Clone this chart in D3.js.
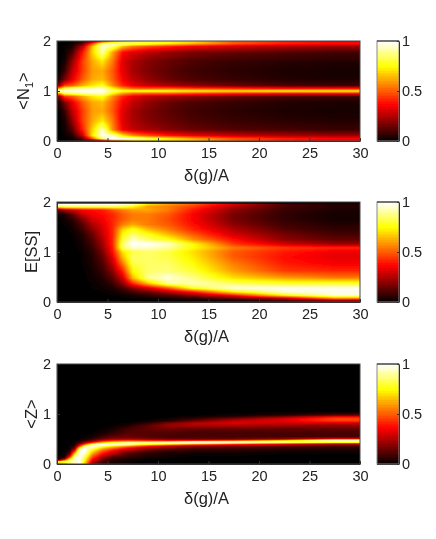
<!DOCTYPE html>
<html>
<head>
<meta charset="utf-8">
<script src="https://cdn.jsdelivr.net/npm/d3@7"></script>
<style>
html,body{margin:0;padding:0;background:#fff;}
svg{display:block;filter:blur(0.35px);}
text{font-family:"Liberation Sans",Arial,sans-serif;fill:#222;}
.axis text{font-size:14.5px;}
.axis path,.axis line{stroke:#333;stroke-width:1;}
.lbl{font-size:16.5px;}
</style>
</head>
<body>
<svg id="chart" width="436" height="539"></svg>
<script>
/* matlab "hot" colormap stops */
const hotStops = [0, 0.365, 0.75, 1];
const hotColors = ["#000000", "#ff0000", "#ffff00", "#ffffff"];

const xTicks = [0, 5, 10, 15, 20, 25, 30];
const yTicks = [0, 1, 2];
const cbTicks = [0, 0.5, 1];

/* sample positions (denser where the ridges are) */
const xEdges = [0, .5, 1, 2, 3, 4, 5, 6, 7, 8, 10, 12, 15, 20, 25, 30];
const xEdgesZ = [0, .5, 1, 1.5, 2, 2.5, 3, 4, 5, 6, 8, 10, 12, 15, 20, 25, 30];

const yEdgesN = [2, 1.97, 1.93, 1.85, 1.7, 1.5, 1.3, 1.15, 1.07, 1.03, .97, .93, .85, .7, .5, .3, .15, .07, .03, 0];
const valuesN = [
  [0,0,.01,.06,.2,.45,.6,.7,.75,.75,.75,.7,.5,.4,.35],
  [0,0,.02,.12,.45,.85,.95,.95,.9,.85,.75,.65,.5,.42,.38],
  [0,.01,.04,.25,.65,.95,.88,.65,.55,.48,.42,.35,.3,.25,.22],
  [0,.01,.1,.38,.68,.92,.62,.38,.32,.27,.22,.18,.15,.12,.1],
  [0,.03,.2,.45,.62,.72,.55,.32,.25,.19,.15,.11,.08,.06,.05],
  [.01,.08,.27,.45,.6,.62,.5,.33,.24,.18,.13,.09,.06,.04,.03],
  [.05,.18,.33,.5,.62,.65,.52,.36,.28,.21,.15,.11,.08,.05,.04],
  [.2,.45,.5,.62,.72,.78,.58,.42,.34,.28,.24,.2,.15,.11,.09],
  [.6,.8,.85,.9,.92,.95,.75,.6,.52,.5,.5,.46,.42,.38,.38],
  [1,1,1,1,1,.98,.88,.8,.78,.8,.78,.75,.72,.75,.75],
  [.6,.8,.85,.9,.92,.95,.75,.6,.52,.5,.5,.46,.42,.38,.38],
  [.2,.45,.5,.62,.72,.78,.58,.42,.34,.28,.24,.2,.15,.11,.09],
  [.05,.18,.33,.5,.62,.65,.52,.36,.28,.21,.15,.11,.08,.05,.04],
  [.01,.08,.27,.45,.6,.62,.5,.33,.24,.18,.13,.09,.06,.04,.03],
  [0,.03,.2,.45,.62,.72,.55,.32,.25,.19,.15,.11,.08,.06,.05],
  [0,.02,.12,.4,.68,.95,.58,.35,.28,.24,.19,.15,.12,.1,.08],
  [0,.01,.05,.28,.72,1,.95,.72,.58,.48,.4,.34,.28,.24,.22],
  [0,0,.02,.14,.5,.88,1,.98,.92,.82,.72,.6,.48,.4,.36],
  [0,0,.01,.06,.2,.4,.55,.62,.72,.72,.7,.65,.5,.4,.35]
];

const yEdgesS = [2, 1.97, 1.93, 1.88, 1.8, 1.7, 1.6, 1.5, 1.4, 1.3, 1.2, 1.12, 1.05, .95, .85, .7, .55, .42, .32, .24, .17, .1, .05, 0];
const valuesS = [
  [0,0,0,0,0,0,0,0,0,0,0,0,0,0,0],
  [.98,.98,.98,.98,.98,.98,.98,.95,.9,.7,.6,.5,.3,.1,.05],
  [.8,.82,.82,.82,.82,.82,.82,.8,.75,.6,.55,.45,.25,.1,.05],
  [.14,.25,.3,.36,.38,.4,.48,.55,.6,.62,.55,.4,.2,.08,.04],
  [.03,.05,.13,.28,.35,.38,.42,.5,.55,.55,.5,.36,.17,.07,.03],
  [0,.02,.06,.18,.3,.35,.42,.5,.55,.55,.48,.36,.17,.07,.03],
  [0,.01,.03,.12,.25,.32,.42,.55,.62,.55,.5,.38,.2,.09,.05],
  [0,0,.02,.08,.2,.3,.42,.68,.78,.65,.55,.42,.25,.12,.07],
  [0,0,.01,.05,.15,.28,.42,.75,.85,.78,.65,.5,.3,.17,.1],
  [0,0,0,.04,.12,.25,.42,.8,.95,.85,.78,.58,.38,.2,.14],
  [0,0,0,.03,.1,.22,.42,.85,1,1,.95,.75,.45,.3,.22],
  [0,0,0,.02,.08,.2,.4,.85,.95,.95,.9,.75,.55,.45,.42],
  [0,0,0,.01,.06,.17,.38,.7,.82,.85,.82,.7,.5,.4,.34],
  [0,0,0,.01,.05,.14,.32,.65,.85,.85,.82,.72,.5,.38,.33],
  [0,0,0,.01,.04,.11,.27,.55,.82,.85,.85,.75,.55,.4,.35],
  [0,0,0,0,.03,.08,.2,.42,.75,.85,.87,.8,.6,.45,.42],
  [0,0,0,0,.02,.05,.13,.3,.65,.9,.97,.88,.7,.6,.55],
  [0,0,0,0,.01,.03,.08,.2,.42,.65,.9,.93,.85,.8,.8],
  [0,0,0,0,.01,.02,.04,.1,.2,.32,.5,.8,.97,.98,.98],
  [0,0,0,0,0,.01,.02,.05,.1,.16,.26,.42,.75,.97,.98],
  [0,0,0,0,0,0,.01,.02,.04,.07,.12,.2,.4,.75,.97],
  [0,0,0,0,0,0,0,0,.01,.02,.04,.07,.15,.3,.6],
  [0,0,0,0,0,0,0,0,0,0,0,.01,.02,.08,.2]
];

const yEdgesZ = [2, 1.1, 1, .96, .92, .88, .84, .8, .74, .66, .58, .52, .49, .47, .45, .43, .41, .39, .37, .34, .3, .26, .22, .18, .14, .1, .06, .03, 0];
const valuesZ = [
  [0,0,0,0,0,0,0,0,0,0,0,0,0,0,0,0],
  [0,0,0,0,0,0,0,0,0,0,0,0,0,0,0,0],
  [0,0,0,0,0,0,0,0,0,0,0,0,0,.02,.05,.12],
  [0,0,0,0,0,0,0,0,0,0,0,0,.03,.08,.2,.38],
  [0,0,0,0,0,0,0,0,0,0,0,.03,.08,.2,.32,.48],
  [0,0,0,0,0,0,0,0,0,0,.02,.05,.15,.27,.33,.45],
  [0,0,0,0,0,0,0,0,0,.01,.06,.17,.26,.32,.3,.3],
  [0,0,0,0,0,0,0,0,.01,.04,.13,.22,.25,.25,.22,.2],
  [0,0,0,0,0,0,0,.01,.03,.1,.14,.16,.14,.14,.14,.14],
  [0,0,0,0,0,0,.01,.03,.07,.12,.12,.12,.1,.1,.1,.1],
  [0,0,0,0,0,.01,.03,.08,.13,.15,.12,.1,.1,.1,.1,.1],
  [0,0,0,0,.01,.03,.07,.15,.2,.22,.18,.15,.14,.15,.2,.32],
  [0,0,0,0,.02,.05,.12,.25,.32,.35,.3,.27,.26,.3,.5,.85],
  [0,0,0,0,.04,.09,.2,.38,.5,.55,.52,.5,.55,.65,.85,1],
  [0,0,0,.01,.08,.18,.32,.55,.65,.75,.75,.8,.95,1,1,.95],
  [0,0,0,.02,.12,.28,.5,.75,.9,1,1,1,.95,.85,.7,.55],
  [0,0,0,.03,.2,.42,.75,1,1,1,.9,.8,.65,.5,.4,.3],
  [0,0,.01,.05,.3,.6,.95,1,.9,.8,.6,.5,.4,.3,.22,.17],
  [0,0,.01,.08,.45,.85,1,.85,.72,.58,.4,.3,.22,.17,.13,.1],
  [0,0,.02,.15,.75,1,.9,.68,.55,.38,.24,.17,.12,.1,.08,.06],
  [0,0,.04,.3,.95,1,.78,.55,.4,.27,.15,.1,.07,.06,.04,.03],
  [0,0,.08,.5,1,1,.68,.45,.32,.18,.1,.06,.04,.03,.02,.02],
  [0,.01,.15,.7,1,.95,.6,.38,.24,.12,.06,.04,.02,.02,.01,.01],
  [0,.02,.3,.85,1,.88,.52,.3,.16,.08,.04,.02,.01,.01,0,0],
  [.01,.08,.55,.95,1,.82,.44,.2,.1,.05,.02,.01,0,0,0,0],
  [.15,.45,.8,.95,1,.78,.36,.14,.06,.02,.01,0,0,0,0,0],
  [.9,.9,.95,.95,1,.72,.28,.1,.04,.02,0,0,0,0,0,0],
  [.6,.65,.8,.9,1,.68,.22,.08,.03,.01,0,0,0,0,0,0]
];

const svg = d3.select("#chart");
const hot = d3.scaleLinear().domain(hotStops).range(hotColors).clamp(true);
const cbLevels = d3.range(0, 1, 1/64);

const L = 57, R = 360, H = 100;   /* plot box */
const CL = 377, CR = 399;         /* colorbar */
const x = d3.scaleLinear().domain([0, 30]).range([L, R]);

const defs = svg.append("defs");
defs.append("filter").attr("id", "soft")
  .attr("filterUnits", "userSpaceOnUse")
  .attr("x", 0).attr("y", 0).attr("width", 436).attr("height", 539)
  .append("feGaussianBlur").attr("stdDeviation", "0.5");

const mids = e => d3.pairs(e, (a, b) => (a + b) / 2);

function drawPanel(i, top, label, labelX, xe, ye, vals){
  const y = d3.scaleLinear().domain([0, 2]).range([top + H, top]);
  const g = svg.append("g");

  defs.append("clipPath").attr("id", "clip" + i)
    .append("rect").attr("x", L).attr("y", top).attr("width", R - L).attr("height", H);

  /* smooth display: each pixel row is one rect with a gradient between the read columns */
  const cx = mids(xe), cy = mids(ye);
  const rowAt = d3.scaleLinear().domain(cy).range(d3.range(cy.length)).clamp(true);
  const sub = 4;
  const pixRows = d3.range(-2, H + 2);
  const stopsFor = py => {
    const f = rowAt(y.invert(top + py + .5)), r0 = Math.floor(f), r1 = Math.min(r0 + 1, cy.length - 1), t = f - r0;
    const line = cx.map((_, c) => vals[r0][c] * (1 - t) + vals[r1][c] * t);
    const out = [{o: 0, v: line[0]}];
    line.forEach((v, c) => {
      out.push({o: (x(cx[c]) - L) / (R - L), v});
      if (c < line.length - 1) d3.range(1, sub).forEach(s => {
        const u = s / sub;
        out.push({o: (x(cx[c] + (cx[c + 1] - cx[c]) * u) - L) / (R - L), v: v + (line[c + 1] - v) * u});
      });
    });
    out.push({o: 1, v: line[line.length - 1]});
    return out;
  };
  pixRows.forEach(py => {
    defs.append("linearGradient").attr("id", `g${i}_${py}`)
      .selectAll("stop").data(stopsFor(py)).join("stop")
      .attr("offset", d => d.o).attr("stop-color", d => hot(d.v));
  });
  g.append("g").attr("clip-path", `url(#clip${i})`)
    .append("g").attr("filter", "url(#soft)")
    .selectAll("rect").data(pixRows).join("rect")
    .attr("shape-rendering", "crispEdges")
    .attr("x", L).attr("width", R - L)
    .attr("y", d => top + d).attr("height", 1.2)
    .attr("fill", d => `url(#g${i}_${d})`);

  g.append("rect").attr("x", L).attr("y", top).attr("width", R - L).attr("height", H)
    .attr("fill", "none").attr("stroke", "#444");

  g.append("g").attr("class", "axis").attr("transform", `translate(0,${top + H})`)
    .call(d3.axisBottom(x).tickValues(xTicks).tickSizeInner(-3).tickSizeOuter(0).tickPadding(7));
  g.append("g").attr("class", "axis").attr("transform", `translate(${L},0)`)
    .call(d3.axisLeft(y).tickValues(yTicks).tickFormat(d3.format("d")).tickSizeInner(-3).tickSizeOuter(0).tickPadding(6));

  g.append("text").attr("class", "lbl").attr("text-anchor", "middle")
    .attr("x", (L + R) / 2 - 2).attr("y", top + H + 40).text("δ(g)/A");

  const yl = g.append("text").attr("class", "lbl").attr("text-anchor", "middle")
    .attr("transform", `translate(${labelX},${top + H / 2}) rotate(-90)`);
  label.forEach(p => {
    yl.append("tspan").text(p.t).attr("dy", p.dy || 0).style("font-size", p.fs || null);
  });

  /* colorbar */
  const c = d3.scaleLinear().domain([0, 1]).range([top + H, top]);
  const cb = svg.append("g");
  cb.selectAll("rect").data(cbLevels).join("rect")
    .attr("shape-rendering", "crispEdges")
    .attr("x", CL).attr("width", CR - CL)
    .attr("y", d => c(d + 1/64)).attr("height", d => c(d) - c(d + 1/64) + .5)
    .attr("fill", d => hot(d + 1/128));
  cb.append("rect").attr("x", CL).attr("y", top).attr("width", CR - CL).attr("height", H)
    .attr("fill", "none").attr("stroke", "#888");
  cb.append("line").attr("x1", CL).attr("x2", CR).attr("y1", top).attr("y2", top).attr("stroke", "#222");
  cb.append("g").attr("class", "axis").attr("transform", `translate(${CR},0)`)
    .call(d3.axisRight(c).tickValues(cbTicks).tickFormat(d3.format("")).tickSizeInner(-2).tickSizeOuter(0).tickPadding(3));
}

drawPanel(1, 41, [{t:"<N"}, {t:"1", dy:4, fs:"11px"}, {t:">", dy:-4}], 29, xEdges, yEdgesN, valuesN);
drawPanel(2, 202, [{t:"E[SS]"}], 37, xEdges, yEdgesS, valuesS);
drawPanel(3, 364, [{t:"<Z>"}], 37, xEdgesZ, yEdgesZ, valuesZ);
</script>
</body>
</html>
